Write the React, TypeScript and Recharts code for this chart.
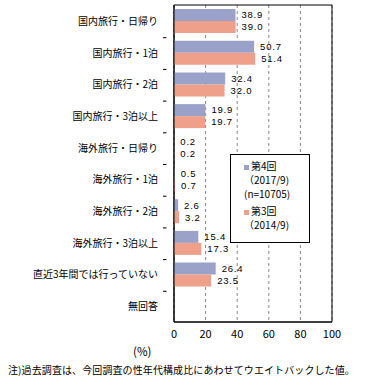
import React from 'react';
import { BarChart, Bar, XAxis, YAxis, CartesianGrid, LabelList, ReferenceArea } from 'recharts';

const categories = [
  '国内旅行・日帰り',
  '国内旅行・1泊',
  '国内旅行・2泊',
  '国内旅行・3泊以上',
  '海外旅行・日帰り',
  '海外旅行・1泊',
  '海外旅行・2泊',
  '海外旅行・3泊以上',
  '直近3年間では行っていない',
  '無回答',
];
const round4: (number | null)[] = [38.9, 50.7, 32.4, 19.9, 0.2, 0.5, 2.6, 15.4, 26.4, null];
const round3: (number | null)[] = [39.0, 51.4, 32.0, 19.7, 0.2, 0.7, 3.2, 17.3, 23.5, null];
const xTicks = [0, 20, 40, 60, 80, 100];
const legendLabels = ['第4回', '（2017/9)', '(n=10705)', '第3回', '（2014/9)'];

const data = categories.map((c, i) => ({ name: c, r4: round4[i], r3: round3[i] }));

const FONT = '"Noto Sans CJK JP", "Noto Sans", sans-serif';
const NUMFONT = '"Liberation Sans", Arial, sans-serif';
const BAND = 33.7;
const BLUE = '#9AA2CA';
const SALMON = '#EEA08A';

const YTick = (props: any) => {
  const { x, y, payload, index } = props;
  return (
    <g>
      <text x={x - 8} y={y} dy={4} textAnchor="end" fontSize={10} fill="#000" fontFamily={FONT}>
        {payload.value}
      </text>
      {index < categories.length - 1 && (
        <line x1={x - 3} x2={x + 0.5} y1={y + BAND / 2} y2={y + BAND / 2} stroke="#000" />
      )}
    </g>
  );
};

const fmt = (v: any) => (v == null ? '' : Number(v).toFixed(1));

const labelStyle = { fontSize: 9.5, fill: '#000', fontFamily: NUMFONT, letterSpacing: 0.8 };

const sq = (c: string) => (
  <span style={{ display: 'inline-block', width: 5, height: 5, background: c, marginRight: 2, verticalAlign: 'middle' }} />
);

export default function App() {
  return (
    <div style={{ position: 'absolute', left: 0, top: 0, width: 370, height: 387, background: '#fff' }}>
      <BarChart
        width={370}
        height={387}
        data={data}
        layout="vertical"
        margin={{ top: 5, right: 38, bottom: 45, left: 0 }}
        barCategoryGap={4}
        barGap={0}
      >
        <CartesianGrid horizontal={false} vertical stroke="#888" strokeDasharray="3 3" />
        <XAxis
          type="number"
          domain={[0, 100]}
          ticks={xTicks}
          tickLine={false}
          axisLine={{ stroke: '#000' }}
          tick={{ fontSize: 11, fill: '#000', fontFamily: FONT }}
          tickMargin={2}
          height={20}
        />
        <YAxis
          type="category"
          dataKey="name"
          width={174}
          tickLine={false}
          axisLine={{ stroke: '#000' }}
          tick={<YTick />}
          interval={0}
        />
        <ReferenceArea x1={0} x2={100} stroke="#000" fill="none" strokeWidth={1} />
        <Bar dataKey="r4" fill={BLUE} isAnimationActive={false}>
          <LabelList dataKey="r4" position="right" offset={6} formatter={fmt} style={labelStyle} />
        </Bar>
        <Bar dataKey="r3" fill={SALMON} isAnimationActive={false}>
          <LabelList dataKey="r3" position="right" offset={6} formatter={fmt} style={labelStyle} />
        </Bar>
      </BarChart>
      <div
        style={{
          position: 'absolute',
          left: 230,
          top: 154,
          width: 80,
          height: 89,
          border: '1px solid #000',
          background: '#fff',
          boxSizing: 'border-box',
          fontFamily: FONT,
          fontSize: 10,
          lineHeight: '14px',
          padding: '4px 0 0 13px',
          color: '#000',
        }}
      >
        <div>{sq(BLUE)}{legendLabels[0]}</div>
        <div>{legendLabels[1]}</div>
        <div>{legendLabels[2]}</div>
        <div style={{ marginTop: 3 }}>{sq(SALMON)}{legendLabels[3]}</div>
        <div>{legendLabels[4]}</div>
      </div>
      <div style={{ position: 'absolute', left: 133, top: 343, fontSize: 11.5, fontFamily: FONT }}>(%)</div>
      <div style={{ position: 'absolute', left: 8, top: 362, fontSize: 10, fontFamily: FONT, letterSpacing: 0.1, whiteSpace: 'nowrap' }}>
        注)過去調査は、今回調査の性年代構成比にあわせてウエイトバックした値。
      </div>
    </div>
  );
}
